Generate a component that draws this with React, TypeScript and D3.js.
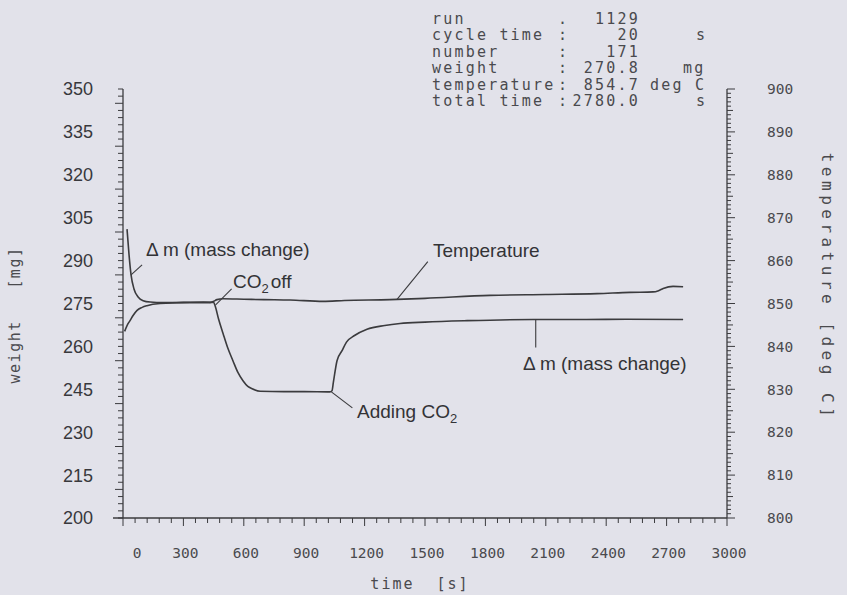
import * as d3 from 'd3';

// weight trace (mg), time in s
const massTime = [20, 30, 40, 55, 75, 100, 135, 200, 300, 400, 450, 457, 475, 497, 520, 546, 570, 596, 620, 641, 681, 800, 900, 1028, 1038, 1045, 1063, 1088, 1110, 1150, 1212, 1300, 1376, 1500, 1709, 2037, 2300, 2500, 2782];
const massValue = [301.0, 292.0, 285.0, 280.0, 277.3, 276.0, 275.5, 275.3, 275.4, 275.5, 275.4, 274.3, 269.5, 264.5, 259.5, 255.0, 251.0, 248.0, 246.0, 245.2, 244.3, 244.2, 244.2, 244.1, 244.5, 247.5, 255.0, 258.5, 261.5, 263.8, 266.0, 267.3, 268.0, 268.5, 269.0, 269.4, 269.4, 269.5, 269.4];

// temperature trace (deg C)
const tempTime = [8, 25, 35, 50, 70, 95, 119, 184, 300, 432, 450, 467, 497, 600, 700, 830, 994, 1100, 1326, 1500, 1823, 2100, 2355, 2519, 2633, 2660, 2683, 2732, 2782];
const tempValue = [843.5, 845.3, 846.0, 847.2, 848.4, 849.1, 849.5, 850.0, 850.2, 850.2, 850.5, 850.9, 851.1, 851.0, 850.9, 850.8, 850.5, 850.7, 850.9, 851.2, 851.9, 852.1, 852.3, 852.6, 852.7, 853.0, 853.5, 854.0, 853.9];

const timeTicks = [0, 300, 600, 900, 1200, 1500, 1800, 2100, 2400, 2700, 3000];
const weightTicks = [200, 215, 230, 245, 260, 275, 290, 305, 320, 335, 350];
const tempTicks = [800, 810, 820, 830, 840, 850, 860, 870, 880, 890, 900];

const headerLabels = ['run', 'cycle time', 'number', 'weight', 'temperature', 'total time'];
const headerSeps = ['.', ':', ':', ':', ':', ':'];
const headerValues = ['1129', '20', '171', '270.8', '854.7', '2780.0'];
const headerUnits = ['', 's', '', 'mg', 'deg C', 's'];

const W = 847;
const H = 595;
const ink = '#3b3b3e';
const plotFont = '"DejaVu Sans Mono", monospace';
const sansFont = '"Liberation Sans", Arial, sans-serif';
const keep = (s: string) => s.replace(/ /g, '\u00a0');

const x = d3.scaleLinear().domain([0, 3000]).range([123, 727]);
const yW = d3.scaleLinear().domain([200, 350]).range([518, 89]);
const yT = d3.scaleLinear().domain([800, 900]).range([518, 89]);

type Note = { t: number; v: number; axis: 'w' | 'T'; dx: number; dy: number; tx: number; ty: number; text: string; sub?: string; tail?: string };
// leader line from a point on the trace to the label
const notes: Note[] = [
  { t: 40, v: 285, axis: 'w', dx: 11, dy: -10, tx: 146, ty: 256, text: '\u0394 m (mass change)' },
  { t: 460, v: 274.5, axis: 'w', dx: 16, dy: -16, tx: 233, ty: 288, text: 'CO', sub: '2', tail: 'off' },
  { t: 1360, v: 850.9, axis: 'T', dx: 31, dy: -38, tx: 433, ty: 257, text: 'Temperature' },
  { t: 1035, v: 244.1, axis: 'w', dx: 21, dy: 16, tx: 357, ty: 418, text: 'Adding CO', sub: '2' },
  { t: 2050, v: 269.4, axis: 'w', dx: 0, dy: 28, tx: 523, ty: 370, text: '\u0394 m (mass change)' },
];

export default function App() {
  const massLine = d3.line<number>()
    .x((_, i) => x(massTime[i]))
    .y(d => yW(d))
    .curve(d3.curveMonotoneX);
  const tempLine = d3.line<number>()
    .x((_, i) => x(tempTime[i]))
    .y(d => yT(d))
    .curve(d3.curveMonotoneX);

  const wMinor = d3.range(200, 350.01, 2.5);
  const tMinor = d3.range(800, 900.01, 1);
  const xMinor = d3.range(0, 3000.01, 60);
  const spaced = { letterSpacing: '2.2px' };

  return (
    <svg width={W} height={H} style={{ position: 'absolute', left: 0, top: 0, background: '#e2e2ea' }}>
      {/* header block */}
      {headerLabels.map((l, i) => {
        const y = 24 + i * 16.4;
        return (
          <g key={l} fontFamily={plotFont} fontSize={15} fill="#4a4a4e" style={spaced}>
            <text x={432} y={y}>{l}</text>
            <text x={558} y={y}>{headerSeps[i]}</text>
            <text x={640} y={y} textAnchor="end">{headerValues[i]}</text>
            <text x={i === 4 ? 650 : i === 3 ? 683 : 696} y={y}>{headerUnits[i]}</text>
          </g>
        );
      })}

      {/* axes */}
      <g stroke={ink} strokeWidth={1.3} fill="none">
        <line x1={113} x2={x(3000)} y1={yW(200)} y2={yW(200)} />
        <line x1={x(0)} x2={x(0)} y1={yW(200)} y2={yW(350)} />
        <line x1={x(3000)} x2={x(3000)} y1={yT(800)} y2={yT(900)} />
        {wMinor.map(v => {
          const len = Math.abs(v % 15) < 0.01 ? 8 : 5;
          return <line key={'w' + v} x1={x(0) - len} x2={x(0)} y1={yW(v)} y2={yW(v)} strokeWidth={1} />;
        })}
        {tMinor.map(v => {
          const len = v % 10 === 0 ? 8 : v % 5 === 0 ? 6 : 4;
          return <line key={'t' + v} x1={x(3000)} x2={x(3000) + len} y1={yT(v)} y2={yT(v)} strokeWidth={1} />;
        })}
        {xMinor.map(v => {
          const len = v % 300 === 0 ? 8 : 5;
          return <line key={'x' + v} x1={x(v)} x2={x(v)} y1={yW(200)} y2={yW(200) + len} strokeWidth={1} />;
        })}
      </g>

      {/* tick labels */}
      {weightTicks.map(v => (
        <text key={'wl' + v} x={93} y={yW(v)} dy="0.36em" textAnchor="end" fontFamily={sansFont} fontSize={18} fill="#38383c">{v}</text>
      ))}
      {tempTicks.map(v => (
        <text key={'tl' + v} x={767} y={yT(v)} dy="0.36em" fontFamily={plotFont} fontSize={14.5} fill="#4a4a4e">{v}</text>
      ))}
      {timeTicks.map(v => (
        <text key={'xl' + v} x={x(v) + (v === 0 ? 14 : 2)} y={558} textAnchor="middle" fontFamily={plotFont} fontSize={14.5} fill="#4a4a4e">{v}</text>
      ))}

      {/* axis titles */}
      <text x={420} y={589} textAnchor="middle" fontFamily={plotFont} fontSize={15} fill="#4a4a4e" style={{ letterSpacing: '2px' }}>{keep('time  [s]')}</text>
      <text transform="translate(20,315) rotate(-90)" textAnchor="middle" fontFamily={plotFont} fontSize={15} fill="#4a4a4e" style={{ letterSpacing: '1.5px' }}>{keep('weight   [mg]')}</text>
      <text transform="translate(822,287) rotate(90)" textAnchor="middle" fontFamily={plotFont} fontSize={16} fill="#4a4a4e" style={{ letterSpacing: '4.5px' }}>{keep('temperature [deg C]')}</text>

      {/* traces */}
      <path d={tempLine(tempValue) ?? ''} fill="none" stroke={ink} strokeWidth={1.6} />
      <path d={massLine(massValue) ?? ''} fill="none" stroke={ink} strokeWidth={1.6} />

      {/* annotations */}
      {notes.map(n => {
        const px = x(n.t);
        const py = n.axis === 'w' ? yW(n.v) : yT(n.v);
        return (
          <g key={n.text + n.t}>
            <line x1={px} y1={py} x2={px + n.dx} y2={py + n.dy} stroke={ink} strokeWidth={1.1} />
            <text x={n.tx} y={n.ty} fontFamily={sansFont} fontSize={19} fill="#333336">
              {n.text}
              {n.sub && <tspan fontSize={13} dy={5}>{n.sub}</tspan>}
              {n.tail && <tspan dy={-5} dx={2}>{n.tail}</tspan>}
            </text>
          </g>
        );
      })}
    </svg>
  );
}
